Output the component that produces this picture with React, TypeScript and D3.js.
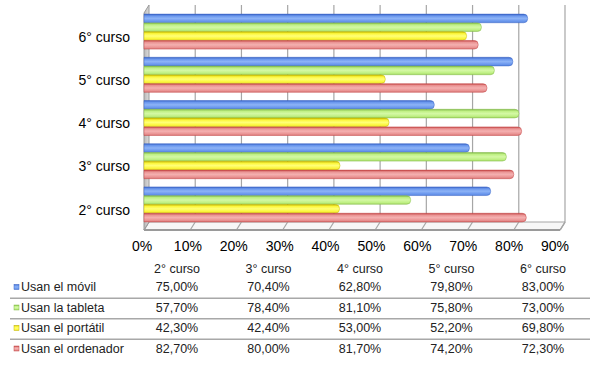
import React from "react";
import * as d3 from "d3";

const categories = ["2° curso", "3° curso", "4° curso", "5° curso", "6° curso"];
const seriesNames = ["Usan el móvil", "Usan la tableta", "Usan el portátil", "Usan el ordenador"];
const movil = [75.0, 70.4, 62.8, 79.8, 83.0];
const tableta = [57.7, 78.4, 81.1, 75.8, 73.0];
const portatil = [42.3, 42.4, 53.0, 52.2, 69.8];
const ordenador = [82.7, 80.0, 81.7, 74.2, 72.3];
const xTicks = [0, 10, 20, 30, 40, 50, 60, 70, 80, 90];
const seriesValues = [movil, tableta, portatil, ordenador];

const palettes = [
  { edge: "#3a64c6", mid: "#6b98ee", light: "#8db3f6", bottom: "#5a86de" },
  { edge: "#82bb48", mid: "#bff084", light: "#d4f8a4", bottom: "#a4d866" },
  { edge: "#c4b800", mid: "#fcf63c", light: "#ffff78", bottom: "#e8de30" },
  { edge: "#c44646", mid: "#ea9494", light: "#f4b0b0", bottom: "#d87676" },
];

const font = "'Liberation Sans', Arial, sans-serif";

export default function App() {
  const W = 600, H = 371;
  const top = 5, floorBack = 222;
  const dx = -5, dy = 8;
  const x = d3.scaleLinear().domain([0, 90]).range([149, 565]);
  const xLabel = d3.scaleLinear().domain([0, 90]).range([142, 555]);
  const yCat = d3
    .scaleBand<string>()
    .domain([...categories].reverse())
    .range([10, 226])
    .paddingInner(0.19)
    .paddingOuter(0.095);
  const ySer = d3
    .scaleBand<string>()
    .domain(seriesNames)
    .range([0, yCat.bandwidth()])
    .paddingInner(0.02);

  const colX = d3.scalePoint<string>().domain(categories).range([177, 543]);
  const rowY = d3.scalePoint<string>().domain(seriesNames).range([288, 349.5]);
  const rowStep = rowY.step();

  const barPath = (x0: number, x1: number, y0: number, h: number) => {
    const r = Math.min(h / 2, 4);
    return `M${x0},${y0} L${x1 - r},${y0} Q${x1},${y0} ${x1},${y0 + r} L${x1},${y0 + h - r} Q${x1},${y0 + h} ${x1 - r},${y0 + h} L${x0},${y0 + h} Z`;
  };

  return (
    <svg
      width={W}
      height={H}
      style={{ position: "absolute", left: 0, top: 0, display: "block", background: "#fff" }}
      fontFamily={font}
    >
      <defs>
        {palettes.map((p, i) => (
          <linearGradient key={i} id={`g${i}`} x1="0" y1="0" x2="0" y2="1">
            <stop offset="0" stopColor={p.edge} />
            <stop offset="0.22" stopColor={p.mid} />
            <stop offset="0.5" stopColor={p.light} />
            <stop offset="0.8" stopColor={p.mid} />
            <stop offset="1" stopColor={p.bottom} />
          </linearGradient>
        ))}
        <linearGradient id="wallG" x1="0" y1="0" x2="1" y2="0">
          <stop offset="0" stopColor="#b8b8b8" />
          <stop offset="1" stopColor="#dcdcdc" />
        </linearGradient>
      </defs>

      {/* back wall */}
      <rect x={x(0)} y={top} width={x(90) - x(0)} height={floorBack - top} fill="#fff" />
      {xTicks.slice(1).map((t) => (
        <line key={t} x1={x(t)} x2={x(t)} y1={top} y2={floorBack} stroke="#a6a6a6" strokeWidth={1.2} />
      ))}
      {/* right wall edge */}
      <line x1={x(90)} x2={x(90) + dx} y1={floorBack} y2={floorBack + dy} stroke="#a6a6a6" strokeWidth={1.5} />
      {/* floor */}
      <polygon
        points={`${x(0)},${floorBack} ${x(90)},${floorBack} ${x(90) + dx},${floorBack + dy} ${x(0) + dx},${floorBack + dy}`}
        fill="#f7f7f7"
        stroke="#a6a6a6"
        strokeWidth={1}
      />
      {xTicks.map((t) => (
        <line key={t} x1={x(t)} x2={x(t) + dx} y1={floorBack} y2={floorBack + dy} stroke="#a6a6a6" strokeWidth={1.2} />
      ))}
      <line x1={x(0) + dx} x2={x(90) + dx} y1={floorBack + dy} y2={floorBack + dy} stroke="#9a9a9a" strokeWidth={1.8} />
      {/* left wall */}
      <polygon
        points={`${x(0)},${top} ${x(0)},${floorBack} ${x(0) + dx},${floorBack + dy} ${x(0) + dx},${top + dy}`}
        fill="url(#wallG)"
        stroke="#9a9a9a"
        strokeWidth={1}
      />

      {/* bars */}
      {categories.map((c, ci) => (
        <g key={c}>
          {seriesNames.map((s, si) => {
            const v = seriesValues[si][ci];
            const y0 = (yCat(c) as number) + (ySer(s) as number);
            return (
              <path
                key={s}
                d={barPath(x(0) + dx, x(v) + dx, y0, ySer.bandwidth())}
                fill={`url(#g${si})`}
                stroke={palettes[si].edge}
                strokeWidth={0.7}
                strokeOpacity={0.7}
              />
            );
          })}
        </g>
      ))}

      {/* category labels */}
      {categories.map((c) => (
        <text
          key={c}
          x={130}
          y={(yCat(c) as number) + yCat.bandwidth() / 2 + 6.5}
          textAnchor="end"
          dominantBaseline="middle"
          fontSize={14}
          fill="#000"
        >
          {c}
        </text>
      ))}

      {/* x axis labels */}
      {xTicks.map((t) => (
        <text key={t} x={xLabel(t)} y={247} textAnchor="middle" dominantBaseline="middle" fontSize={14} fill="#000">
          {`${t}%`}
        </text>
      ))}

      {/* data table */}
      {categories.map((c) => (
        <text key={c} x={colX(c)} y={270} textAnchor="middle" dominantBaseline="middle" fontSize={12.5} fill="#222">
          {c}
        </text>
      ))}
      {seriesNames.map((s, si) => {
        const yy = rowY(s) as number;
        return (
          <g key={s}>
            <rect x={14} y={yy - 3.5} width={5} height={5} fill={`url(#g${si})`} stroke={palettes[si].edge} strokeWidth={0.5} />
            <text x={21} y={yy} dominantBaseline="middle" fontSize={12.5} fill="#222">
              {s}
            </text>
            {categories.map((c, ci) => (
              <text key={c} x={colX(c)} y={yy} textAnchor="middle" dominantBaseline="middle" fontSize={12.5} fill="#222">
                {seriesValues[si][ci].toFixed(2).replace(".", ",") + "%"}
              </text>
            ))}
            {si < seriesNames.length - 1 && (
              <line x1={10} x2={590} y1={yy + rowStep / 2} y2={yy + rowStep / 2} stroke="#a8a8a8" strokeWidth={1.5} />
            )}
          </g>
        );
      })}
    </svg>
  );
}
